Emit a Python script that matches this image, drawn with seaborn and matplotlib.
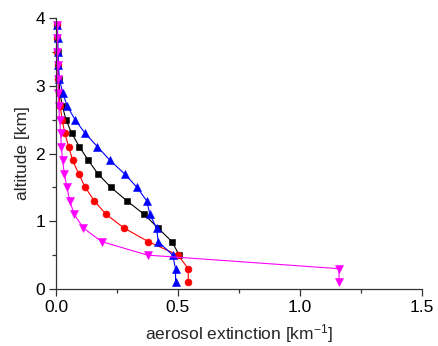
import numpy as np
import pandas as pd
import matplotlib
matplotlib.use("Agg")
import matplotlib.pyplot as plt
import seaborn as sns
from matplotlib.ticker import MultipleLocator, FormatStrFormatter

sns.set_style("ticks")
plt.rcParams['font.family'] = ['Liberation Sans', 'DejaVu Sans']
plt.rcParams['mathtext.fontset'] = 'custom'
plt.rcParams['mathtext.rm'] = 'Liberation Sans'
plt.rcParams['mathtext.it'] = 'Liberation Sans'

altitude = [0.1, 0.3, 0.5, 0.7, 0.9, 1.1, 1.3, 1.5, 1.7, 1.9,
            2.1, 2.3, 2.5, 2.7, 2.9, 3.1, 3.3, 3.5, 3.7, 3.9]

black_ext = [np.nan, np.nan, 0.505, 0.475, 0.418, 0.362, 0.291, 0.225, 0.172, 0.132,
             0.096, 0.064, 0.041, 0.026, 0.016, 0.011, 0.008, 0.007, 0.006, 0.005]
red_ext = [0.542, 0.542, 0.500, 0.378, 0.279, 0.206, 0.157, 0.120, 0.093, 0.068,
           0.052, 0.036, 0.025, 0.017, 0.012, 0.009, 0.007, 0.006, 0.005, 0.005]
blue_ext = [0.490, 0.490, 0.478, 0.419, 0.412, 0.385, 0.372, 0.332, 0.281, 0.221,
            0.170, 0.119, 0.078, 0.046, 0.027, 0.014, 0.010, 0.008, 0.007, 0.006]
magenta_ext = [1.160, 1.160, 0.375, 0.187, 0.112, 0.075, 0.056, 0.045, 0.034, 0.027,
               0.022, 0.019, 0.015, 0.011, 0.009, 0.008, 0.007, 0.006, 0.005, 0.005]

series = [
    ("black", black_ext, "s", 4.3),
    ("red", red_ext, "o", 5.0),
    ("blue", blue_ext, "^", 5.8),
    ("magenta", magenta_ext, "v", 5.8),
]

fig = plt.figure(figsize=(4.38, 3.46), dpi=100)
ax = fig.add_axes([56/438, 1 - 289/346, (422-56)/438, (289-18)/346])

for color, ext, mk, ms in series:
    df = pd.DataFrame({"ext": ext, "alt": altitude}).dropna()
    sns.lineplot(data=df, x="ext", y="alt", sort=False, estimator=None,
                 color=color, marker=mk, markersize=ms, markeredgewidth=0.4,
                 markeredgecolor=color, linewidth=0.8, ax=ax, clip_on=False)

ax.set_xlim(0, 1.5)
ax.set_ylim(0, 4)
ax.xaxis.set_major_locator(MultipleLocator(0.5))
ax.xaxis.set_minor_locator(MultipleLocator(0.25))
ax.yaxis.set_major_locator(MultipleLocator(1))
ax.yaxis.set_minor_locator(MultipleLocator(0.5))
ax.xaxis.set_major_formatter(FormatStrFormatter('%.1f'))
ax.yaxis.set_major_formatter(FormatStrFormatter('%d'))

sns.despine(ax=ax)
spine_color = '#333333'
for s in ['left', 'bottom']:
    ax.spines[s].set_color(spine_color)
    ax.spines[s].set_linewidth(0.9)
ax.tick_params(which='major', direction='out', length=5, width=0.9, color=spine_color,
               labelsize=12.5, pad=3, labelcolor='black')
ax.tick_params(which='minor', direction='out', length=3, width=0.9, color=spine_color)

ax.set_xlabel(r"aerosol extinction [km$^{\mathregular{-1}}$]", fontsize=12.5, labelpad=5)
ax.set_ylabel("altitude [km]", fontsize=12.5, labelpad=4)

fig.savefig("out.png", dpi=100)
